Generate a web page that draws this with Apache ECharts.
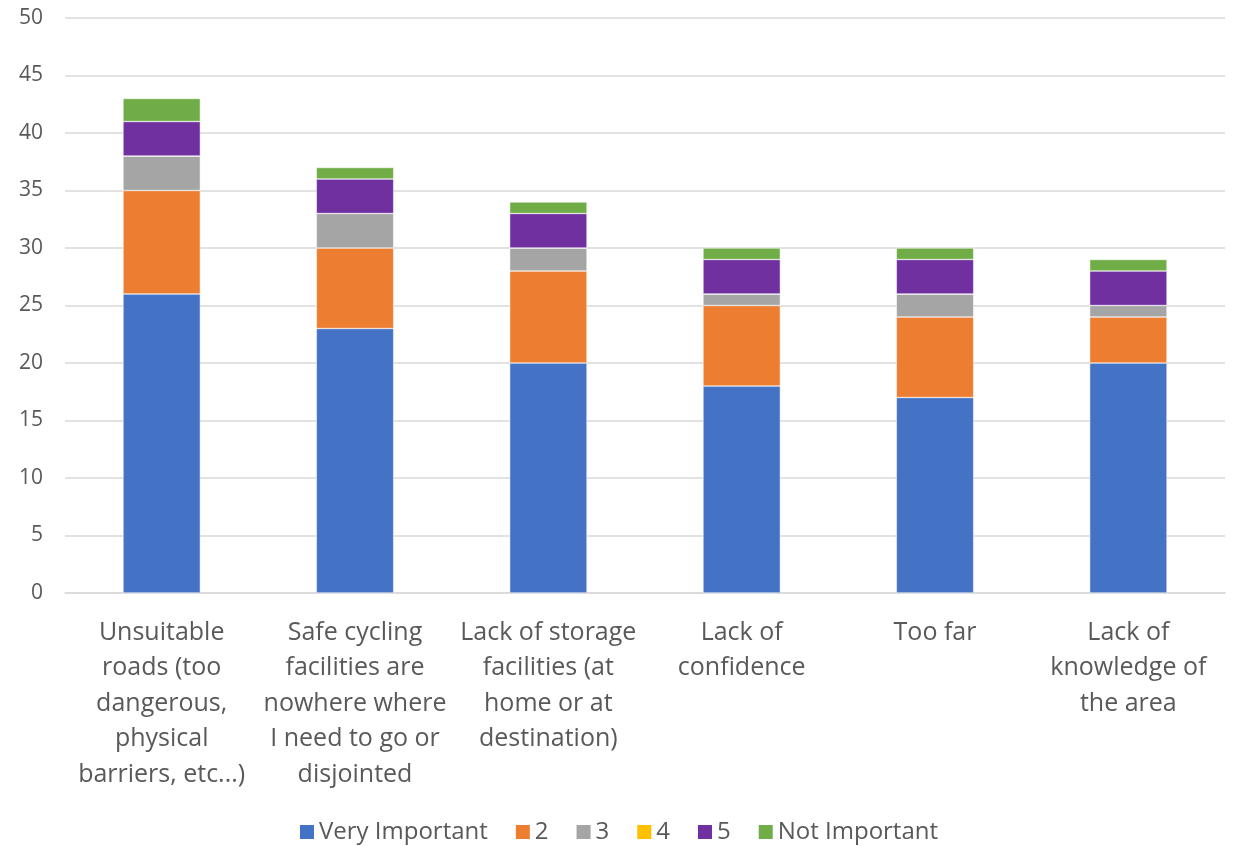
<!DOCTYPE html>
<html>
<head>
<meta charset="utf-8">
<script src="https://cdn.jsdelivr.net/npm/echarts@6/dist/echarts.min.js"></script>
<style>
  html, body { margin: 0; padding: 0; background: #fff; }
  #chart { width: 1236px; height: 846px; }
</style>
</head>
<body>
<div id="chart"></div>
<script>
// Reasons for not cycling, by importance rating
const categories = [
  'Unsuitable\nroads (too\ndangerous,\nphysical\nbarriers, etc...)',
  'Safe cycling\nfacilities are\nnowhere where\nI need to go or\ndisjointed',
  'Lack of storage\nfacilities (at\nhome or at\ndestination)',
  'Lack of\nconfidence',
  'Too far',
  'Lack of\nknowledge of\nthe area'
];
const veryImportant = [26, 23, 20, 18, 17, 20];
const rating2       = [9, 7, 8, 7, 7, 4];
const rating3       = [3, 3, 2, 1, 2, 1];
const rating4       = [0, 0, 0, 0, 0, 0];
const rating5       = [3, 3, 3, 3, 3, 3];
const notImportant  = [2, 1, 1, 1, 1, 1];
const yTicks = { min: 0, max: 50, interval: 5 };

const seriesDefs = [
  ['Very Important', veryImportant, '#4472C4'],
  ['2', rating2, '#ED7D31'],
  ['3', rating3, '#A5A5A5'],
  ['4', rating4, '#FFC000'],
  ['5', rating5, '#7030A0'],
  ['Not Important', notImportant, '#70AD47']
];

const FONT = '"Open Sans", "Noto Sans", sans-serif';
const TEXT = '#595959';

const chart = echarts.init(document.getElementById('chart'));
chart.setOption({
  animation: false,
  textStyle: { fontFamily: FONT },
  grid: { left: 65, right: 11, top: 18, bottom: 253, containLabel: false },
  legend: {
    bottom: -3,
    left: 'center',
    itemWidth: 16,
    itemHeight: 16,
    itemGap: 26,
    icon: 'rect',
    textStyle: { fontFamily: FONT, fontSize: 24, color: TEXT, padding: [0, 0, 0, -1] },
    data: seriesDefs.map(d => d[0])
  },
  xAxis: {
    type: 'category',
    data: categories,
    axisLine: { lineStyle: { color: '#D9D9D9', width: 1.5 } },
    axisTick: { show: false },
    axisLabel: {
      interval: 0,
      margin: 22,
      fontFamily: FONT,
      fontSize: 25,
      lineHeight: 35.5,
      color: TEXT,
      align: 'center'
    }
  },
  yAxis: {
    type: 'value',
    min: yTicks.min,
    max: yTicks.max,
    interval: yTicks.interval,
    axisLine: { show: false },
    axisTick: { show: false },
    splitLine: { lineStyle: { color: '#D9D9D9', width: 1.5 } },
    axisLabel: { fontFamily: FONT, fontSize: 21, color: TEXT, margin: 22 }
  },
  series: seriesDefs.map(([name, data, color]) => ({
    name,
    type: 'bar',
    stack: 'total',
    data,
    barWidth: '40%',
    itemStyle: { color, borderColor: '#fff', borderWidth: 0.5 }
  }))
});
</script>
</body>
</html>
